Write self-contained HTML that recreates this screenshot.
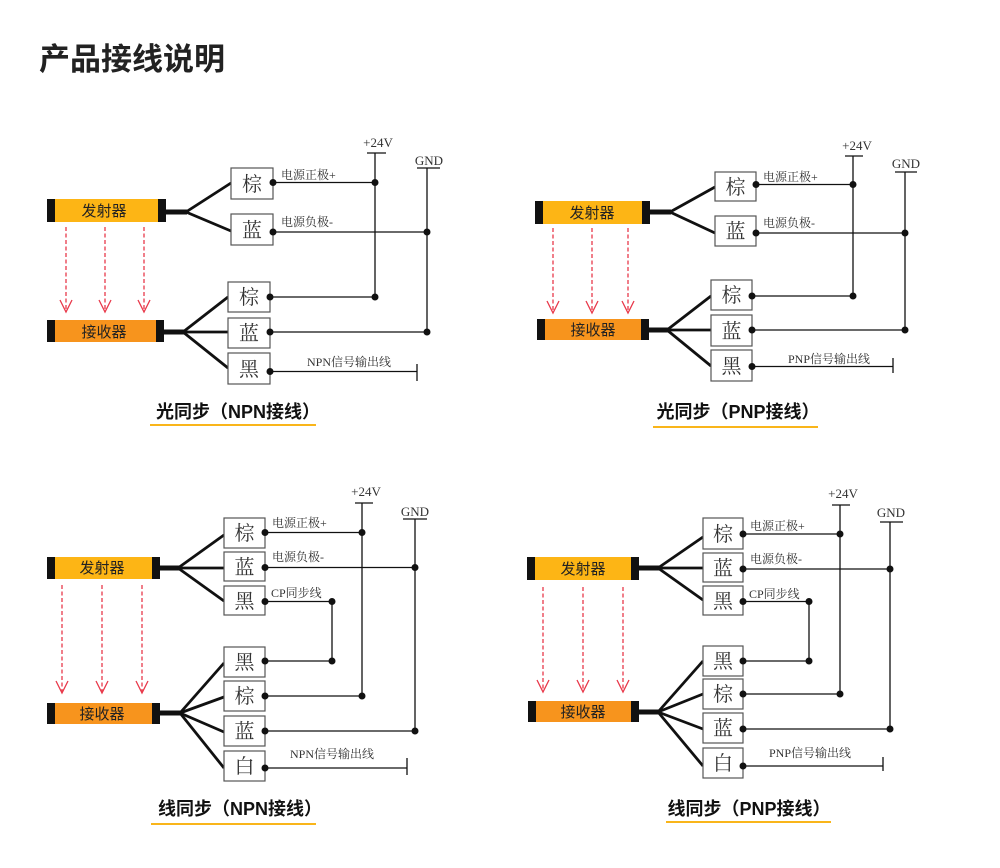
<!DOCTYPE html>
<html><head><meta charset="utf-8">
<style>
html,body{margin:0;padding:0;background:#fff;}
svg{display:block;}
.t{font-family:"Liberation Sans","Noto Sans CJK SC",sans-serif;font-weight:bold;font-size:31px;fill:#222;}
.bar{font-family:"Liberation Sans","Noto Sans CJK SC",sans-serif;font-size:15px;fill:#222;}
.bx{font-family:"Liberation Serif","Noto Serif CJK SC",serif;font-size:20px;fill:#333;}
.lb{font-family:"Liberation Serif","Noto Serif CJK SC",serif;font-size:12px;fill:#333;}
.pw{font-family:"Liberation Serif","Noto Serif CJK SC",serif;font-size:13px;fill:#333;}
.cap{font-family:"Liberation Sans","Noto Sans CJK SC",sans-serif;font-weight:bold;font-size:18px;fill:#111;}
.w{stroke:#111;stroke-width:1.3;fill:none;}
.f{stroke:#111;stroke-width:2.8;fill:none;}
.c{stroke:#111;stroke-width:5;}
.box{fill:#fff;stroke:#555;stroke-width:1.2;}
.ar{stroke:#e8384a;stroke-width:1.3;stroke-dasharray:4 2.5;fill:none;}
.ah{stroke:#e8384a;stroke-width:1.3;fill:none;}
.ul{stroke:#f9b51a;stroke-width:2;}
</style></head>
<body>
<svg width="1000" height="868" viewBox="0 0 1000 868" xmlns="http://www.w3.org/2000/svg">
<text class="t" x="39" y="70">产品接线说明</text>

<!-- ================= TOP LEFT ================= -->
<g>
<rect x="47" y="199" width="119" height="23" fill="#fdb515"/>
<rect x="47" y="199" width="8" height="23" fill="#111"/>
<rect x="158" y="199" width="8" height="23" fill="#111"/>
<text class="bar" x="104" y="216" text-anchor="middle">发射器</text>
<rect x="47" y="320" width="117" height="22" fill="#f7941d"/>
<rect x="47" y="320" width="8" height="22" fill="#111"/>
<rect x="156" y="320" width="8" height="22" fill="#111"/>
<text class="bar" x="104" y="337" text-anchor="middle">接收器</text>
<line class="ar" x1="66" y1="227" x2="66" y2="311"/><polyline class="ah" points="60,300 66,312 72,300"/>
<line class="ar" x1="105" y1="227" x2="105" y2="311"/><polyline class="ah" points="99,300 105,312 111,300"/>
<line class="ar" x1="144" y1="227" x2="144" y2="311"/><polyline class="ah" points="138,300 144,312 150,300"/>
<line class="c" x1="166" y1="212" x2="187" y2="212"/>
<polyline class="f" points="231,183 186,212 231,231"/>
<line class="c" x1="164" y1="332" x2="184" y2="332"/>
<line class="f" x1="183" y1="332" x2="228" y2="297"/>
<line class="f" x1="183" y1="332" x2="228" y2="332"/>
<line class="f" x1="183" y1="332" x2="228" y2="368"/>
<rect class="box" x="231" y="168" width="42" height="31"/><text class="bx" x="252" y="191" text-anchor="middle">棕</text>
<rect class="box" x="231" y="214" width="42" height="31"/><text class="bx" x="252" y="237" text-anchor="middle">蓝</text>
<rect class="box" x="228" y="282" width="42" height="30"/><text class="bx" x="249" y="304" text-anchor="middle">棕</text>
<rect class="box" x="228" y="318" width="42" height="30"/><text class="bx" x="249" y="340" text-anchor="middle">蓝</text>
<rect class="box" x="228" y="353" width="42" height="31"/><text class="bx" x="249" y="376" text-anchor="middle">黑</text>
<text class="pw" x="378" y="147" text-anchor="middle">+24V</text>
<line class="w" x1="367" y1="153" x2="386" y2="153"/>
<line class="w" x1="375" y1="153" x2="375" y2="297"/>
<text class="pw" x="429" y="165" text-anchor="middle">GND</text>
<line class="w" x1="417" y1="168" x2="440" y2="168"/>
<line class="w" x1="427" y1="168" x2="427" y2="332"/>
<line class="w" x1="273" y1="182.5" x2="375" y2="182.5"/>
<line class="w" x1="273" y1="232" x2="427" y2="232"/>
<line class="w" x1="270" y1="297" x2="375" y2="297"/>
<line class="w" x1="270" y1="332" x2="427" y2="332"/>
<line class="w" x1="270" y1="371.5" x2="417" y2="371.5"/>
<line class="w" x1="417" y1="364" x2="417" y2="381"/>
<g fill="#111">
<circle cx="273" cy="182.5" r="3.5"/><circle cx="375" cy="182.5" r="3.5"/>
<circle cx="273" cy="232" r="3.5"/><circle cx="427" cy="232" r="3.5"/>
<circle cx="270" cy="297" r="3.5"/><circle cx="375" cy="297" r="3.5"/>
<circle cx="270" cy="332" r="3.5"/><circle cx="427" cy="332" r="3.5"/>
<circle cx="270" cy="371.5" r="3.5"/>
</g>
<text class="lb" x="281" y="179">电源正极+</text>
<text class="lb" x="281" y="226">电源负极-</text>
<text class="lb" x="307" y="366">NPN信号输出线</text>
<text class="cap" x="238" y="418" text-anchor="middle">光同步（NPN接线）</text>
<line class="ul" x1="150" y1="425" x2="316" y2="425"/>
</g>

<!-- ================= TOP RIGHT ================= -->
<g>
<rect x="535" y="201" width="115" height="23" fill="#fdb515"/>
<rect x="535" y="201" width="8" height="23" fill="#111"/>
<rect x="642" y="201" width="8" height="23" fill="#111"/>
<text class="bar" x="592" y="218" text-anchor="middle">发射器</text>
<rect x="537" y="319" width="112" height="21" fill="#f7941d"/>
<rect x="537" y="319" width="8" height="21" fill="#111"/>
<rect x="641" y="319" width="8" height="21" fill="#111"/>
<text class="bar" x="593" y="335" text-anchor="middle">接收器</text>
<line class="ar" x1="553" y1="228" x2="553" y2="312"/><polyline class="ah" points="547,301 553,313 559,301"/>
<line class="ar" x1="592" y1="228" x2="592" y2="312"/><polyline class="ah" points="586,301 592,313 598,301"/>
<line class="ar" x1="628" y1="228" x2="628" y2="312"/><polyline class="ah" points="622,301 628,313 634,301"/>
<line class="c" x1="650" y1="212" x2="671" y2="212"/>
<polyline class="f" points="715,187 670,212 715,233"/>
<line class="c" x1="649" y1="330" x2="668" y2="330"/>
<line class="f" x1="667" y1="330" x2="711" y2="296"/>
<line class="f" x1="667" y1="330" x2="711" y2="330"/>
<line class="f" x1="667" y1="330" x2="711" y2="366"/>
<rect class="box" x="715" y="172" width="41" height="29"/><text class="bx" x="735.5" y="194" text-anchor="middle">棕</text>
<rect class="box" x="715" y="216" width="41" height="30"/><text class="bx" x="735.5" y="238" text-anchor="middle">蓝</text>
<rect class="box" x="711" y="280" width="41" height="30"/><text class="bx" x="731.5" y="302" text-anchor="middle">棕</text>
<rect class="box" x="711" y="315" width="41" height="31"/><text class="bx" x="731.5" y="338" text-anchor="middle">蓝</text>
<rect class="box" x="711" y="350" width="41" height="31"/><text class="bx" x="731.5" y="373" text-anchor="middle">黑</text>
<text class="pw" x="857" y="150" text-anchor="middle">+24V</text>
<line class="w" x1="845" y1="156" x2="863" y2="156"/>
<line class="w" x1="853" y1="156" x2="853" y2="296"/>
<text class="pw" x="906" y="168" text-anchor="middle">GND</text>
<line class="w" x1="895" y1="172" x2="917" y2="172"/>
<line class="w" x1="905" y1="172" x2="905" y2="330"/>
<line class="w" x1="756" y1="184.5" x2="853" y2="184.5"/>
<line class="w" x1="756" y1="233" x2="905" y2="233"/>
<line class="w" x1="752" y1="296" x2="853" y2="296"/>
<line class="w" x1="752" y1="330" x2="905" y2="330"/>
<line class="w" x1="752" y1="366.5" x2="893" y2="366.5"/>
<line class="w" x1="893" y1="358" x2="893" y2="373"/>
<g fill="#111">
<circle cx="756" cy="184.5" r="3.5"/><circle cx="853" cy="184.5" r="3.5"/>
<circle cx="756" cy="233" r="3.5"/><circle cx="905" cy="233" r="3.5"/>
<circle cx="752" cy="296" r="3.5"/><circle cx="853" cy="296" r="3.5"/>
<circle cx="752" cy="330" r="3.5"/><circle cx="905" cy="330" r="3.5"/>
<circle cx="752" cy="366.5" r="3.5"/>
</g>
<text class="lb" x="763" y="181">电源正极+</text>
<text class="lb" x="763" y="227">电源负极-</text>
<text class="lb" x="788" y="363">PNP信号输出线</text>
<text class="cap" x="738" y="418" text-anchor="middle">光同步（PNP接线）</text>
<line class="ul" x1="653" y1="427" x2="818" y2="427"/>
</g>

<!-- ================= BOTTOM LEFT ================= -->
<g>
<rect x="47" y="557" width="113" height="22" fill="#fdb515"/>
<rect x="47" y="557" width="8" height="22" fill="#111"/>
<rect x="152" y="557" width="8" height="22" fill="#111"/>
<text class="bar" x="102" y="573" text-anchor="middle">发射器</text>
<rect x="47" y="703" width="113" height="21" fill="#f7941d"/>
<rect x="47" y="703" width="8" height="21" fill="#111"/>
<rect x="152" y="703" width="8" height="21" fill="#111"/>
<text class="bar" x="102" y="719" text-anchor="middle">接收器</text>
<line class="ar" x1="62" y1="585" x2="62" y2="692"/><polyline class="ah" points="56,681 62,693 68,681"/>
<line class="ar" x1="102" y1="585" x2="102" y2="692"/><polyline class="ah" points="96,681 102,693 108,681"/>
<line class="ar" x1="142" y1="585" x2="142" y2="692"/><polyline class="ah" points="136,681 142,693 148,681"/>
<line class="c" x1="160" y1="568" x2="179" y2="568"/>
<line class="f" x1="178" y1="568" x2="224" y2="535"/>
<line class="f" x1="178" y1="568" x2="224" y2="568"/>
<line class="f" x1="178" y1="568" x2="224" y2="601"/>
<line class="c" x1="160" y1="713" x2="181" y2="713"/>
<line class="f" x1="180" y1="713" x2="224" y2="663"/>
<line class="f" x1="180" y1="713" x2="224" y2="697"/>
<line class="f" x1="180" y1="713" x2="224" y2="732"/>
<line class="f" x1="180" y1="713" x2="224" y2="768"/>
<rect class="box" x="224" y="518" width="41" height="30"/><text class="bx" x="244.5" y="540" text-anchor="middle">棕</text>
<rect class="box" x="224" y="552" width="41" height="29"/><text class="bx" x="244.5" y="574" text-anchor="middle">蓝</text>
<rect class="box" x="224" y="586" width="41" height="29"/><text class="bx" x="244.5" y="608" text-anchor="middle">黑</text>
<rect class="box" x="224" y="647" width="41" height="30"/><text class="bx" x="244.5" y="669" text-anchor="middle">黑</text>
<rect class="box" x="224" y="681" width="41" height="30"/><text class="bx" x="244.5" y="703" text-anchor="middle">棕</text>
<rect class="box" x="224" y="716" width="41" height="30"/><text class="bx" x="244.5" y="738" text-anchor="middle">蓝</text>
<rect class="box" x="224" y="751" width="41" height="30"/><text class="bx" x="244.5" y="773" text-anchor="middle">白</text>
<text class="pw" x="366" y="496" text-anchor="middle">+24V</text>
<line class="w" x1="355" y1="503" x2="373" y2="503"/>
<line class="w" x1="362" y1="503" x2="362" y2="696"/>
<text class="pw" x="415" y="516" text-anchor="middle">GND</text>
<line class="w" x1="403" y1="519" x2="427" y2="519"/>
<line class="w" x1="415" y1="519" x2="415" y2="731"/>
<line class="w" x1="265" y1="532.5" x2="362" y2="532.5"/>
<line class="w" x1="265" y1="567.5" x2="415" y2="567.5"/>
<polyline class="w" points="265,601.5 332,601.5 332,661 265,661"/>
<line class="w" x1="265" y1="696" x2="362" y2="696"/>
<line class="w" x1="265" y1="731" x2="415" y2="731"/>
<line class="w" x1="265" y1="768" x2="407" y2="768"/>
<line class="w" x1="407" y1="758" x2="407" y2="775"/>
<g fill="#111">
<circle cx="265" cy="532.5" r="3.5"/><circle cx="362" cy="532.5" r="3.5"/>
<circle cx="265" cy="567.5" r="3.5"/><circle cx="415" cy="567.5" r="3.5"/>
<circle cx="265" cy="601.5" r="3.5"/><circle cx="332" cy="601.5" r="3.5"/>
<circle cx="265" cy="661" r="3.5"/><circle cx="332" cy="661" r="3.5"/>
<circle cx="265" cy="696" r="3.5"/><circle cx="362" cy="696" r="3.5"/>
<circle cx="265" cy="731" r="3.5"/><circle cx="415" cy="731" r="3.5"/>
<circle cx="265" cy="768" r="3.5"/>
</g>
<text class="lb" x="272" y="527">电源正极+</text>
<text class="lb" x="272" y="561">电源负极-</text>
<text class="lb" x="271" y="597">CP同步线</text>
<text class="lb" x="290" y="758">NPN信号输出线</text>
<text class="cap" x="240" y="815" text-anchor="middle">线同步（NPN接线）</text>
<line class="ul" x1="151" y1="824" x2="316" y2="824"/>
</g>

<!-- ================= BOTTOM RIGHT ================= -->
<g>
<rect x="527" y="557" width="112" height="23" fill="#fdb515"/>
<rect x="527" y="557" width="8" height="23" fill="#111"/>
<rect x="631" y="557" width="8" height="23" fill="#111"/>
<text class="bar" x="583" y="574" text-anchor="middle">发射器</text>
<rect x="528" y="701" width="111" height="21" fill="#f7941d"/>
<rect x="528" y="701" width="8" height="21" fill="#111"/>
<rect x="631" y="701" width="8" height="21" fill="#111"/>
<text class="bar" x="583" y="717" text-anchor="middle">接收器</text>
<line class="ar" x1="543" y1="587" x2="543" y2="691"/><polyline class="ah" points="537,680 543,692 549,680"/>
<line class="ar" x1="583" y1="587" x2="583" y2="691"/><polyline class="ah" points="577,680 583,692 589,680"/>
<line class="ar" x1="623" y1="587" x2="623" y2="691"/><polyline class="ah" points="617,680 623,692 629,680"/>
<line class="c" x1="639" y1="568" x2="659" y2="568"/>
<line class="f" x1="658" y1="568" x2="703" y2="537"/>
<line class="f" x1="658" y1="568" x2="703" y2="568"/>
<line class="f" x1="658" y1="568" x2="703" y2="600"/>
<line class="c" x1="639" y1="712" x2="659" y2="712"/>
<line class="f" x1="658" y1="712" x2="703" y2="661"/>
<line class="f" x1="658" y1="712" x2="703" y2="694"/>
<line class="f" x1="658" y1="712" x2="703" y2="729"/>
<line class="f" x1="658" y1="712" x2="703" y2="766"/>
<rect class="box" x="703" y="518" width="40" height="31"/><text class="bx" x="723" y="541" text-anchor="middle">棕</text>
<rect class="box" x="703" y="553" width="40" height="29"/><text class="bx" x="723" y="575" text-anchor="middle">蓝</text>
<rect class="box" x="703" y="586" width="40" height="29"/><text class="bx" x="723" y="608" text-anchor="middle">黑</text>
<rect class="box" x="703" y="646" width="40" height="30"/><text class="bx" x="723" y="668" text-anchor="middle">黑</text>
<rect class="box" x="703" y="679" width="40" height="30"/><text class="bx" x="723" y="701" text-anchor="middle">棕</text>
<rect class="box" x="703" y="713" width="40" height="30"/><text class="bx" x="723" y="735" text-anchor="middle">蓝</text>
<rect class="box" x="703" y="748" width="40" height="30"/><text class="bx" x="723" y="770" text-anchor="middle">白</text>
<text class="pw" x="843" y="498" text-anchor="middle">+24V</text>
<line class="w" x1="832" y1="505" x2="850" y2="505"/>
<line class="w" x1="840" y1="505" x2="840" y2="694"/>
<text class="pw" x="891" y="517" text-anchor="middle">GND</text>
<line class="w" x1="880" y1="522" x2="903" y2="522"/>
<line class="w" x1="890" y1="522" x2="890" y2="729"/>
<line class="w" x1="743" y1="534" x2="840" y2="534"/>
<line class="w" x1="743" y1="569" x2="890" y2="569"/>
<polyline class="w" points="743,601.5 809,601.5 809,661 743,661"/>
<line class="w" x1="743" y1="694" x2="840" y2="694"/>
<line class="w" x1="743" y1="729" x2="890" y2="729"/>
<line class="w" x1="743" y1="766" x2="883" y2="766"/>
<line class="w" x1="883" y1="757" x2="883" y2="771"/>
<g fill="#111">
<circle cx="743" cy="534" r="3.5"/><circle cx="840" cy="534" r="3.5"/>
<circle cx="743" cy="569" r="3.5"/><circle cx="890" cy="569" r="3.5"/>
<circle cx="743" cy="601.5" r="3.5"/><circle cx="809" cy="601.5" r="3.5"/>
<circle cx="743" cy="661" r="3.5"/><circle cx="809" cy="661" r="3.5"/>
<circle cx="743" cy="694" r="3.5"/><circle cx="840" cy="694" r="3.5"/>
<circle cx="743" cy="729" r="3.5"/><circle cx="890" cy="729" r="3.5"/>
<circle cx="743" cy="766" r="3.5"/>
</g>
<text class="lb" x="750" y="530">电源正极+</text>
<text class="lb" x="750" y="563">电源负极-</text>
<text class="lb" x="749" y="598">CP同步线</text>
<text class="lb" x="769" y="757">PNP信号输出线</text>
<text class="cap" x="749" y="815" text-anchor="middle">线同步（PNP接线）</text>
<line class="ul" x1="666" y1="822" x2="831" y2="822"/>
</g>
</svg>
</body></html>
